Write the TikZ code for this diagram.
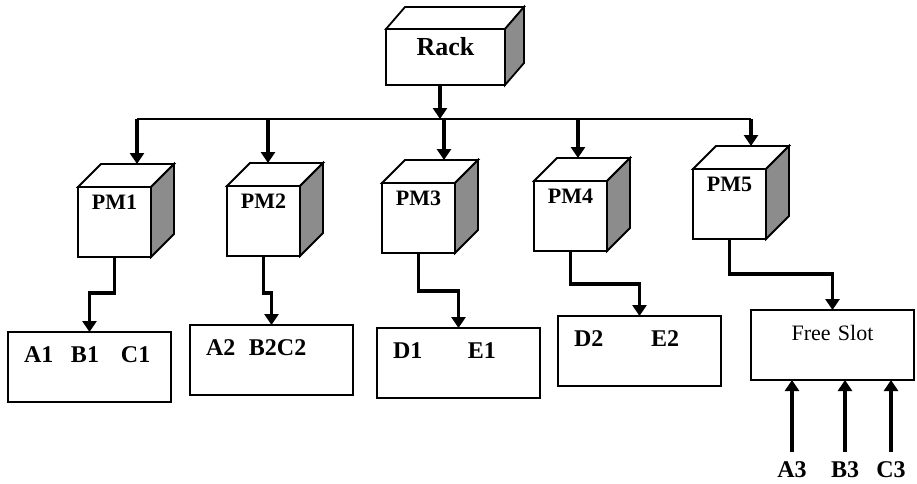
\documentclass[tikz,border=0pt]{standalone}
\RequirePackage{fontspec}
\setmainfont{Liberation Serif}
\RequirePackage{tikz}
\usetikzlibrary{calc}
\usetikzlibrary{arrows.meta}

\tikzset{
    face/.style={draw,line width=1.8pt,fill=white,outer sep=0pt,line join=miter},
    rackbox/.style={face,font=\fontsize{26}{26}\bfseries\selectfont,minimum width=119pt,inner xsep=0pt,inner ysep=6pt,text height=20pt,text depth=24pt},
    cube/.style={face,font=\fontsize{22}{22}\bfseries\selectfont,minimum width=73pt,inner xsep=0pt,inner ysep=7pt,text height=15pt,text depth=41pt},
    slot/.style={face,font=\fontsize{24}{24}\bfseries\selectfont,text width=131pt,align=left,inner xsep=16pt,inner ysep=12pt,text height=18pt,text depth=28pt},
    side/.style={draw,line width=1.8pt,fill=black!45},
    inlbl/.style={font=\fontsize{24}{24}\bfseries\selectfont,inner sep=3pt,anchor=base},
    bus/.style={line width=2pt},
    arr/.style={line width=3.5pt,-{Triangle[length=11pt,width=14pt]}}
}

\begin{document}
\begin{tikzpicture}[x=1pt,y=-1pt]
                \useasboundingbox (0,0) rectangle (917,483);

                \node[rackbox,anchor=north west] (rack) at (386,29) {Rack};

                \node[cube,anchor=north west] (pm1) at (78,187) {PM1};
                \node[cube,anchor=north west] (pm2) at (227,186) {PM2};
                \node[cube,anchor=north west] (pm3) at (382,183) {PM3};
                \node[cube,anchor=north west] (pm4) at (534,181) {PM4};
                \node[cube,anchor=north west] (pm5) at (693,169) {PM5};

                \foreach \n/\dx/\dy in {rack/19/22,pm1/23/23,pm2/23/23,pm3/23/23,pm4/23/23,pm5/23/23}{
                    \draw[face] (\n.north west) -- ++(\dx,-\dy) -- ($(\n.north east)+(\dx,-\dy)$) -- (\n.north east) -- cycle;
                    \draw[side] (\n.north east) -- ++(\dx,-\dy) -- ($(\n.south east)+(\dx,-\dy)$) -- (\n.south east) -- cycle;
                    \coordinate (\n-back) at ($(\n.north)+(\dx,-\dy)$);
                }

                \node[slot,anchor=north west] (s1) at (8,332) {\makebox[47pt][l]{A1}\makebox[50pt][l]{B1}C1};
                \node[slot,anchor=north west] (s2) at (190,325) {\makebox[43pt][l]{A2}B2C2};
                \node[slot,anchor=north west] (s3) at (377,328) {\makebox[75pt][l]{D1}E1};
                \node[slot,anchor=north west] (s4) at (558,316) {\makebox[77pt][l]{D2}E2};
                \node[slot,anchor=north west,align=center,font=\fontsize{22}{22}\selectfont] (s5) at (751,310) {Free Slot};

                \node[inlbl] (a3) at (792,477) {A3};
                \node[inlbl] (b3) at (845,477) {B3};
                \node[inlbl] (c3) at (891,477) {C3};

                \coordinate (hub) at (440,119);
                \coordinate (drop1) at (137,119);
                \coordinate (drop2) at (268,119);
                \coordinate (drop3) at (444,119);
                \coordinate (drop4) at (578,119);
                \coordinate (drop5) at (751,119);

                \draw[bus] (drop1) -- (drop5);
                \draw[arr] (hub |- rack.south) -- (hub);

                \foreach \n in {1,...,5}
                    \draw[arr] (drop\n) -- (drop\n |- pm\n-back);

                \foreach \n/\d in {1/36,2/37,3/38,4/33,5/35}
                    \draw[arr] (pm\n.south) -- ++(0,\d) -| (s\n.north);

                \foreach \n in {a3,b3,c3}
                    \draw[arr,shorten <=6pt] (\n.north) -- (\n.north |- s5.south);
            \end{tikzpicture}
\end{document}
